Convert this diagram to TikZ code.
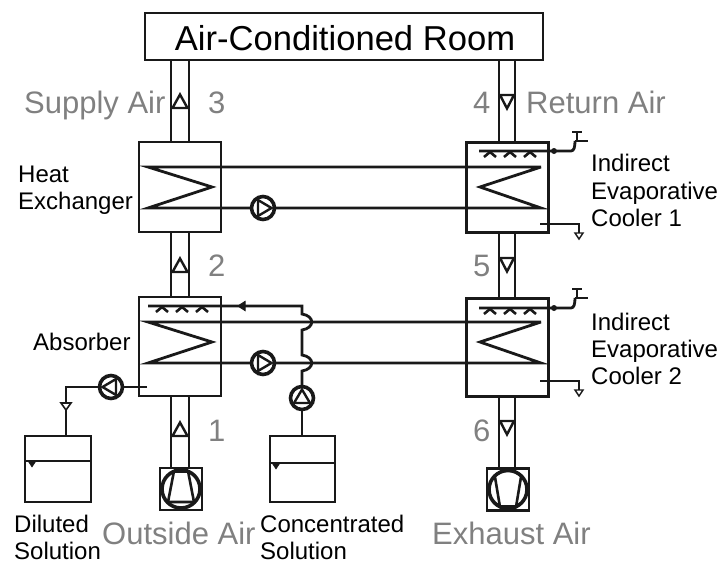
\documentclass[tikz,border=0pt]{standalone}
\usepackage{fontspec}
\setmainfont{Liberation Sans}
\definecolor{lbl}{gray}{0.5}
\definecolor{ink}{gray}{0.1}
\tikzset{
  pipe/.style={draw=ink,line width=2.8pt},
  thinline/.style={draw=ink,line width=2pt},
  thinbox/.style={draw=ink,line width=1.6pt,inner sep=0pt},
  thickbox/.style={draw=ink,line width=3pt,inner sep=0pt},
  pumpnode/.style={circle,draw=ink,line width=3.6pt,minimum size=23pt,inner sep=0pt,fill=white},
  fannode/.style={circle,draw=ink,line width=3.6pt,minimum size=38pt,inner sep=0pt},
  fanbox/.style={draw=ink,line width=2.4pt,minimum width=42pt,minimum height=42pt,inner sep=0pt},
  ductarrow/.style={draw=ink,line width=2.4pt,fill=white,line join=miter},
  glabel/.style={text=lbl,font=\fontsize{31}{31}\selectfont,inner sep=0pt},
  blabel/.style={text=black,font=\fontsize{24}{27}\selectfont,inner sep=0pt,align=left},
  titletext/.style={text=black,font=\fontsize{34.6}{35}\selectfont,inner sep=0pt}
}
% box: name, x1, y1, x2, y2, style
\newcommand{\bx}[6]{\node[#6,minimum width={(#4-#2)*1pt},minimum height={(#5-#3)*1pt},anchor=center] (#1) at ({(#2+#4)/2},{(#3+#5)/2}) {};}
\newcommand{\pumpat}[4]{\node[pumpnode] (#1) at (#2,#3) {};
  \begin{scope}[shift={(#1.center)},rotate=#4]\draw[draw=ink,line width=2.4pt,line join=miter] (8.5,0)--(-5,8)--(-5,-8)--cycle;\end{scope}}
\newcommand{\ductup}[2]{\draw[ductarrow] (#1,#2+1.5)--(#1-7.5,#2+15)--(#1+7.5,#2+15)--cycle;}
\newcommand{\ductdown}[2]{\draw[ductarrow] (#1,#2-1.5)--(#1-7,#2-15)--(#1+7,#2-15)--cycle;}
\newcommand{\spraymarks}[4]{\foreach \sx in {#1,#2,#3}{\draw[draw=ink,line width=2.6pt] (\sx-6,#4+6)--(\sx,#4+1)--(\sx+6,#4+6);}}
\begin{document}
\begin{tikzpicture}[x=1pt,y=-1pt]
\path[use as bounding box] (0,0) rectangle (720,563);

% ducts
\foreach \xa/\xb/\ya/\yb in {171/189/60/142,171/189/232/297,171/189/396/468,499/515/60/142,499/515/232/298,499/515/396/468}{
  \draw[pipe] (\xa,\ya)--(\xa,\yb) (\xb,\ya)--(\xb,\yb);
}

% room
\bx{room}{145}{13}{543}{60}{thinbox,line width=2.4pt,fill=white}
\node[titletext] (roomtext) at (345,38) {Air-Conditioned Room};

% exchangers
\bx{hx}{139}{142}{221}{232}{thinbox}
\bx{abs}{139}{297}{221}{396}{thinbox}
\bx{iec1}{466}{142}{548}{232}{thickbox}
\bx{iec2}{466}{298}{548}{396}{thickbox}

% named ends
\coordinate (hxT) at (148,167); \coordinate (hxA) at (212,187); \coordinate (hxB) at (148,208);
\coordinate (absT) at (148,322); \coordinate (absA) at (212,342); \coordinate (absB) at (148,363);
\coordinate (c1T) at (541,167); \coordinate (c1A) at (480,187); \coordinate (c1B) at (541,208);
\coordinate (c2T) at (541,322); \coordinate (c2A) at (480,342); \coordinate (c2B) at (541,363);

% coils
\draw[pipe,line join=miter] (c1T)--(hxT)--(hxA)--(hxB)--(c1B)--(c1A)--(c1T);
\draw[pipe,line join=miter] (c2T)--(absT)--(absA)--(absB)--(c2B)--(c2A)--(c2T);

% absorber solution line with hops
\coordinate (sprayA) at (148,306);
\coordinate (sprayC) at (302,306);
\coordinate (h1a) at (302,314); \coordinate (h1b) at (302,330);
\coordinate (h2a) at (302,355); \coordinate (h2b) at (302,371);
\coordinate (p3top) at (302,398);
\draw[pipe] (p3top)--(h2b) .. controls (315,369) and (315,357) .. (h2a)--(h1b) .. controls (315,328) and (315,316) .. (h1a)--(sprayC)--(sprayA);
\coordinate (arrA) at (238,306);
\draw[draw=ink,fill=ink,line width=1pt] (arrA)--(245,301.5)--(245,310.5)--cycle;
\spraymarks{162}{182}{202}{306}

% tanks
\bx{tankD}{25}{436}{91}{502}{thinbox}
\bx{tankC}{270}{436}{335}{502}{thinbox}

% absorber outlet to diluted tank
\coordinate (outA) at (147,387); \coordinate (bendD) at (66,387);
\coordinate (dropA) at (66,403); \coordinate (dropB) at (66,410);
\draw[pipe] (outA)--(bendD)--(dropA);
\draw[draw=ink,line width=1.6pt,fill=white] (61,403)--(71,403)--(dropB)--cycle;
\draw[pipe] (dropB)--(tankD.north -| dropB);
\draw[pipe] (p3top)--(tankC.north -| p3top);

% pumps
\pumpat{p1}{263}{208}{0}
\pumpat{p2}{263}{363}{0}
\pumpat{p3}{302}{398}{90}
\pumpat{p4}{111}{387}{180}

\coordinate (ld1) at (25,461); \coordinate (ld2) at (91,461);
\coordinate (lc1) at (270,463); \coordinate (lc2) at (335,463);
\draw[pipe] (ld1)--(ld2);
\draw[pipe] (lc1)--(lc2);
\draw[draw=ink,fill=ink,line width=.5pt] (28,461)--(36,461)--(32,467)--cycle;
\draw[draw=ink,fill=ink,line width=.5pt] (272,463)--(280,463)--(276,469)--cycle;

% IEC 1 spray, tap, drain
\coordinate (s1a) at (479,151); \coordinate (s1b) at (571,151); \coordinate (s1c) at (575,141);
\draw[pipe] (s1a)--(s1b) .. controls (574,151) and (575,147) .. (s1c);
\draw[pipe] (577,132)--(577,141);
\draw[pipe] (572,132)--(582,132);
\draw[pipe] (s1c)--(588,141);
\node[circle,fill=ink,minimum size=6pt,inner sep=0pt] (d1) at (554,151) {};
\spraymarks{490}{510}{530}{151}
\coordinate (dr1a) at (540,224); \coordinate (dr1b) at (579,224); \coordinate (dr1c) at (579,233);
\draw[thinline] (dr1a)--(dr1b)--(dr1c);
\draw[draw=ink,line width=1.4pt,fill=white] (575,233)--(583,233)--(579,239)--cycle;

% IEC 2 spray, tap, drain
\coordinate (s2a) at (479,308); \coordinate (s2b) at (571,308); \coordinate (s2c) at (575,298);
\draw[pipe] (s2a)--(s2b) .. controls (574,308) and (575,304) .. (s2c);
\draw[pipe] (577,289)--(577,298);
\draw[pipe] (572,289)--(582,289);
\draw[pipe] (s2c)--(588,298);
\node[circle,fill=ink,minimum size=6pt,inner sep=0pt] (d2) at (554,308) {};
\spraymarks{490}{510}{530}{308}
\coordinate (dr2a) at (540,381); \coordinate (dr2b) at (579,381); \coordinate (dr2c) at (579,390);
\draw[thinline] (dr2a)--(dr2b)--(dr2c);
\draw[draw=ink,line width=1.4pt,fill=white] (575,390)--(583,390)--(579,396)--cycle;

% duct arrows
\ductup{180}{93}
\ductup{180}{257}
\ductup{180}{421}
\ductdown{507}{110}
\ductdown{507}{273}
\ductdown{507}{436}

% fans
\node[fanbox,fill=white] (fb1) at (181,489) {};
\node[fannode] (f1) at (181,489) {};
\draw[draw=ink,line width=2.6pt] (174,471)--(168,502)--(194,502)--(188,471);
\draw[draw=ink,line width=4pt] (174,471)--(188,471);
\node[fanbox,fill=white] (fb2) at (508,489.5) {};
\node[fannode] (f2) at (508,489.5) {};
\draw[draw=ink,line width=2.6pt] (495,477)--(500,507)--(516,507)--(521,477);
\draw[draw=ink,line width=4pt] (500,507)--(516,507);

% grey labels
\node[glabel,anchor=base west] (supply) at (24,113) {Supply Air};
\node[glabel,anchor=base west] (ret) at (526,113) {Return Air};
\node[glabel,anchor=base west] (n3) at (208,113) {3};
\node[glabel,anchor=base west] (n4) at (473,113) {4};
\node[glabel,anchor=base west] (n2) at (208,276) {2};
\node[glabel,anchor=base west] (n5) at (473,276) {5};
\node[glabel,anchor=base west] (n1) at (208,441) {1};
\node[glabel,anchor=base west] (n6) at (473,441) {6};
\node[glabel,anchor=base west] (outside) at (102,544) {Outside Air};
\node[glabel,anchor=base west] (exhaust) at (432,544) {Exhaust Air};

% black labels
\node[blabel,anchor=base west] (h1) at (18,182) {Heat};
\node[blabel,anchor=base west] (h2) at (18,209) {Exchanger};
\node[blabel,anchor=base west] (ab) at (33,350) {Absorber};
\node[blabel,anchor=base west] (i1) at (591,171) {Indirect};
\node[blabel,anchor=base west] (i2) at (591,199) {Evaporative};
\node[blabel,anchor=base west] (i3) at (591,226) {Cooler 1};
\node[blabel,anchor=base west] (j1) at (591,330) {Indirect};
\node[blabel,anchor=base west] (j2) at (591,357) {Evaporative};
\node[blabel,anchor=base west] (j3) at (591,384) {Cooler 2};
\node[blabel,anchor=base west] (di1) at (14,532) {Diluted};
\node[blabel,anchor=base west] (di2) at (14,559) {Solution};
\node[blabel,anchor=base west] (co1) at (260,532) {Concentrated};
\node[blabel,anchor=base west] (co2) at (260,559) {Solution};
\end{tikzpicture}
\end{document}
